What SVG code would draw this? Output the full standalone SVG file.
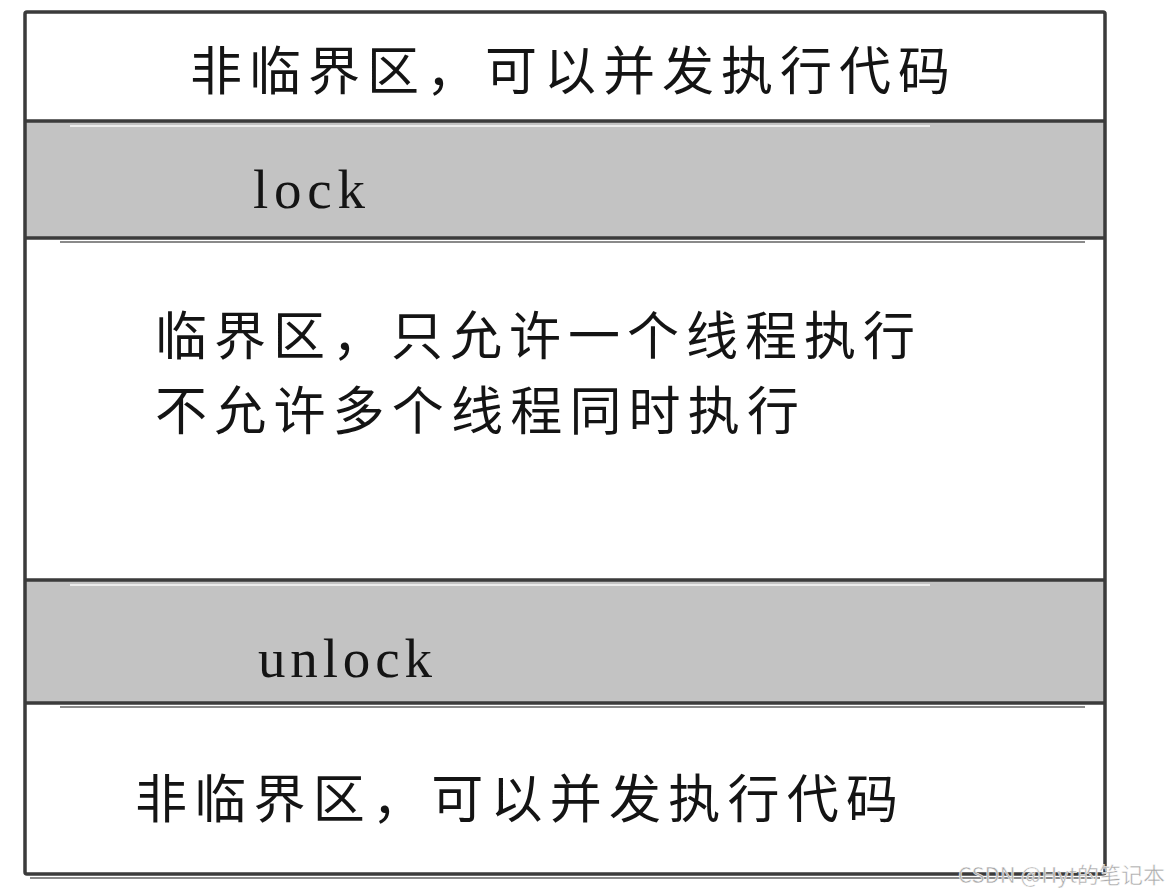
<svg xmlns="http://www.w3.org/2000/svg" width="1169" height="895" viewBox="0 0 1169 895">
  <defs>
    <filter id="soft" filterUnits="userSpaceOnUse" x="0" y="0" width="1169" height="895">
      <feGaussianBlur stdDeviation="0.7"/>
    </filter>
  </defs>
  <style>
    .cjk { font-family: "Noto Sans CJK SC", "Noto Sans", sans-serif; font-size: 52px; fill: #141414; }
    .mono { font-family: "Liberation Serif", "DejaVu Serif", serif; font-size: 55px; fill: #141414; }
    .edge { stroke: #3a3a3a; stroke-width: 3.5; fill: none; filter: url(#soft); }
    .hl { stroke: #ececec; stroke-width: 2; fill: none; filter: url(#soft); }
    .shade { stroke: #8a8a8a; stroke-width: 2; fill: none; filter: url(#soft); }
    .band { fill: #c3c3c3; }
    .wm { font-family: "Noto Sans CJK SC", "Liberation Sans", sans-serif; font-size: 22px; fill: #a8a8a8; stroke: #ffffff; stroke-width: 0.5; }
  </style>
  <rect width="1169" height="895" fill="#ffffff"/>

  <g id="outer-box">
    <rect x="25" y="12" width="1080" height="862" fill="#ffffff"/>
  </g>

  <g id="top-noncritical">
    <text class="cjk" x="190" y="90" textLength="760" lengthAdjust="spacing">非临界区，可以并发执行代码</text>
  </g>

  <g id="lock-band">
    <rect class="band" x="26" y="121" width="1078" height="117"/>
    <line class="edge" x1="25" y1="121" x2="1105" y2="121"/>
    <line class="hl" x1="70" y1="126" x2="930" y2="126"/>
    <line class="edge" x1="25" y1="238" x2="1105" y2="238"/>
    <line class="shade" x1="60" y1="242" x2="1085" y2="242"/>
    <text class="mono" x="253" y="208" textLength="112" lengthAdjust="spacing">lock</text>
  </g>

  <g id="critical-section">
    <text class="cjk" x="155" y="355" textLength="760" lengthAdjust="spacing">临界区，只允许一个线程执行</text>
    <text class="cjk" x="155" y="430" textLength="644" lengthAdjust="spacing">不允许多个线程同时执行</text>
  </g>

  <g id="unlock-band">
    <rect class="band" x="26" y="580" width="1078" height="123"/>
    <line class="edge" x1="25" y1="580" x2="1105" y2="580"/>
    <line class="hl" x1="70" y1="585" x2="930" y2="585"/>
    <line class="edge" x1="25" y1="703" x2="1105" y2="703"/>
    <line class="shade" x1="60" y1="707" x2="1085" y2="707"/>
    <text class="mono" x="258" y="677" textLength="174" lengthAdjust="spacing">unlock</text>
  </g>

  <g id="bottom-noncritical">
    <text class="cjk" x="135" y="818" textLength="763" lengthAdjust="spacing">非临界区，可以并发执行代码</text>
  </g>

  <g id="outer-border">
    <rect class="edge" x="25" y="12" width="1080" height="862" rx="2"/>
    <line class="shade" x1="30" y1="878" x2="1100" y2="878"/>
  </g>

  <g id="watermark">
    <text class="wm" x="958" y="883" textLength="207" lengthAdjust="spacingAndGlyphs">CSDN @Hyt的笔记本</text>
  </g>
</svg>
